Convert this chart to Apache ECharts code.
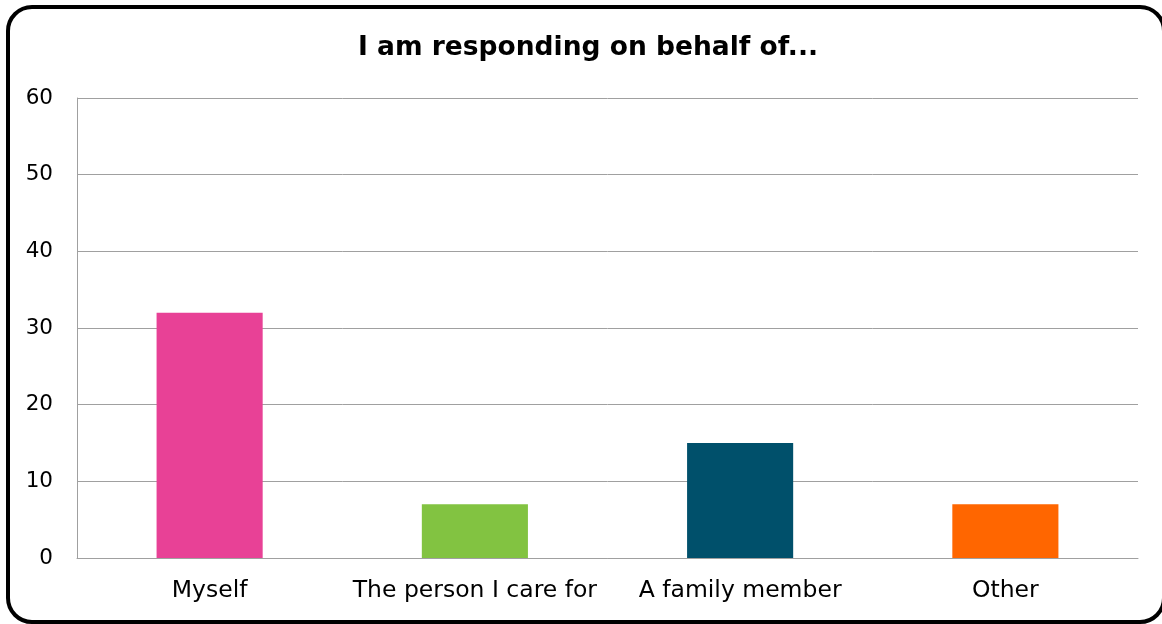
<!DOCTYPE html>
<html><head><meta charset="utf-8">
<script src="https://cdn.jsdelivr.net/npm/echarts@6/dist/echarts.min.js"></script>
<style>
html,body{margin:0;padding:0;background:#fff;}
#frame{position:absolute;left:6px;top:5px;width:1152px;height:611px;border:4px solid #000;border-radius:26px;box-sizing:content-box;}
#chart{position:absolute;left:0;top:0;width:1162px;height:624px;}
</style></head>
<body>
<div id="frame"></div>
<div id="chart"></div>
<script>
var categories = ['Myself', 'The person I care for', 'A family member', 'Other'];
var values = [32, 7, 15, 7];
var colors = ['#E84196', '#82C341', '#00506B', '#FF6600'];
var chart = echarts.init(document.getElementById('chart'));
chart.setOption({
  animation: false,
  title: {
    text: 'I am responding on behalf of...',
    left: 583, top: 30, textAlign: 'center',
    textStyle: {fontFamily: 'DejaVu Sans', fontWeight: 'bold', fontSize: 26.5, color: '#000'}
  },
  grid: {left: 77, right: 24, top: 98, bottom: 66, containLabel: false},
  xAxis: {
    type: 'category', data: categories,
    axisLine: {lineStyle: {color: '#A0A0A0', width: 1}},
    axisTick: {show: false},
    axisLabel: {interval: 0, fontFamily: 'DejaVu Sans', fontSize: 23.5, color: '#000', margin: 21}
  },
  yAxis: {
    type: 'value', min: 0, max: 60, interval: 10,
    axisLine: {show: true, lineStyle: {color: '#A0A0A0', width: 1}},
    axisTick: {show: false},
    splitLine: {lineStyle: {color: '#A0A0A0', width: 1}},
    axisLabel: {fontFamily: 'DejaVu Sans', fontSize: 21.5, color: '#000', margin: 24}
  },
  series: [{
    type: 'bar', barWidth: '40%',
    data: values.map(function(v, i){ return {value: v, itemStyle: {color: colors[i]}}; })
  }]
});
</script>
</body></html>
